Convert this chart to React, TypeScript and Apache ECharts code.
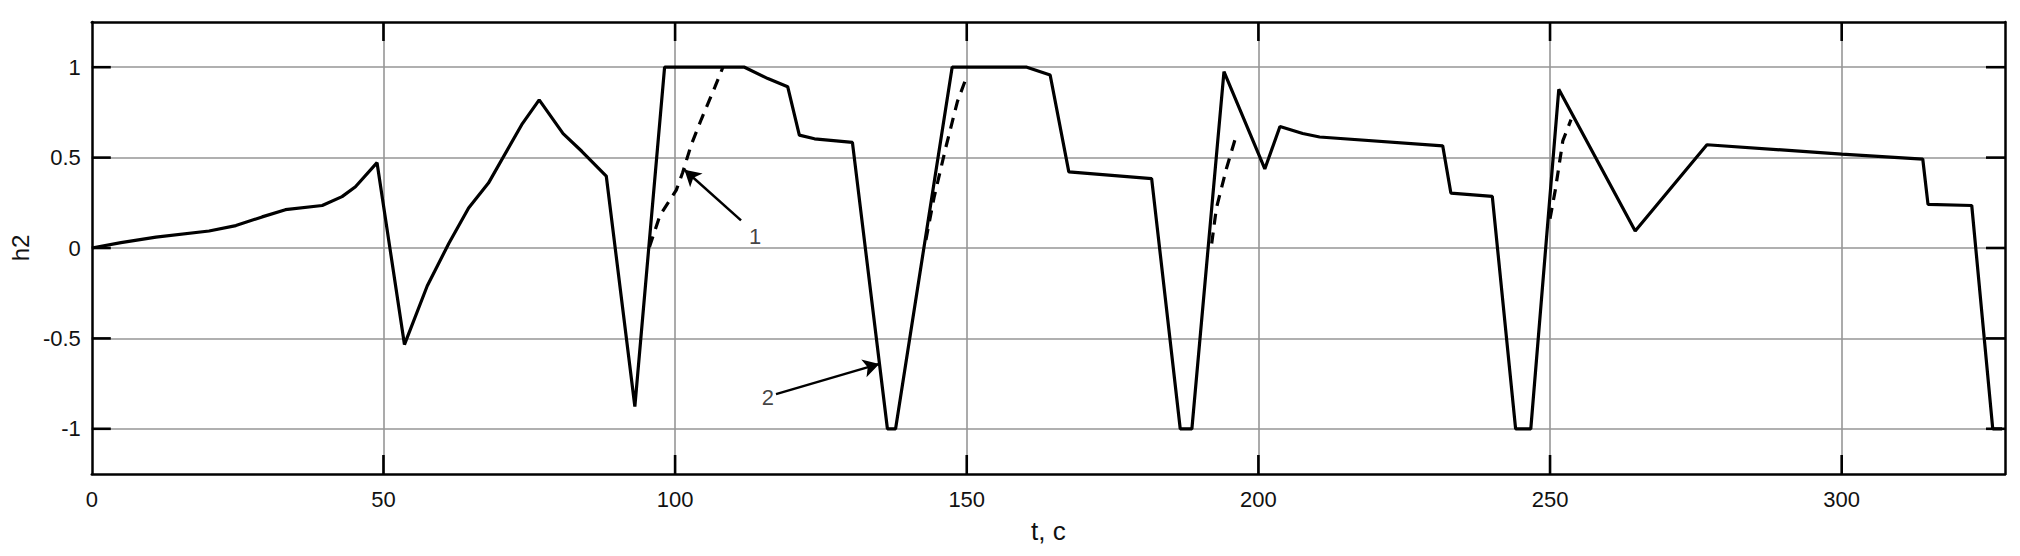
import React, { useEffect, useRef } from "react";
import * as echarts from "echarts";

// Solid curve (2): time t, c and level h2
const solidT = [0, 5, 11, 20.1, 24.7, 29.2, 33.2, 39.5, 42.9, 45.2, 48.9, 53.6, 57.5, 61.2, 64.6, 68, 73.7, 76.7, 80.8, 84, 88.2, 93.1, 98.2, 111.9, 115.9, 119.3, 121.3, 123.9, 130.4, 136.4, 137.8, 147.5, 160.3, 164.3, 167.5, 181.7, 186.6, 188.6, 194.1, 201.1, 203.7, 207.6, 210.5, 231.6, 233, 240.1, 244.1, 246.7, 251.5, 264.6, 276.9, 300, 313.9, 314.8, 322.3, 325.9, 327.5];
const solidH = [0, 0.03, 0.06, 0.094, 0.124, 0.172, 0.212, 0.235, 0.284, 0.339, 0.472, -0.534, -0.21, 0.025, 0.221, 0.359, 0.682, 0.819, 0.633, 0.535, 0.398, -0.877, 1.0, 1.0, 0.937, 0.892, 0.624, 0.604, 0.584, -1.0, -1.0, 1.0, 1.0, 0.957, 0.421, 0.384, -1.0, -1.0, 0.976, 0.437, 0.672, 0.633, 0.614, 0.565, 0.304, 0.286, -1.0, -1.0, 0.878, 0.094, 0.571, 0.519, 0.492, 0.241, 0.235, -1.0, -1.0];

// Dashed curve (1): four rising segments
const dash1T = [95.6, 97.4, 100.2, 101.3, 102.8, 104.5, 106.8, 108.2];
const dash1H = [0.006, 0.18, 0.32, 0.418, 0.574, 0.712, 0.888, 1.0];
const dash2T = [143, 144.4, 146.4, 148.4, 150.1];
const dash2H = [0.045, 0.28, 0.555, 0.81, 0.957];
const dash3T = [192, 192.8, 194.5, 196.3];
const dash3H = [0.025, 0.22, 0.437, 0.633];
const dash4T = [250, 250.9, 252.2, 253.6];
const dash4H = [0.162, 0.32, 0.594, 0.71];

// Annotation arrows and their labels
const arrowLabels = ["1", "2"];
const arrowTailT = [111.3, 117.3];
const arrowTailH = [0.153, -0.808];
const arrowHeadT = [101.6, 135.0];
const arrowHeadH = [0.433, -0.641];
const labelT = [113.7, 115.9];
const labelH = [0.065, -0.827];

// Tick positions (inward tick marks on all four sides)
const xTickValues = [50, 100, 150, 200, 250, 300];
const yTickValues = [-1, -0.5, 0, 0.5, 1];

const X_MIN = 0;
const X_MAX = 328;
const Y_MIN = -1.25;
const Y_MAX = 1.25;

const FONT = "'Liberation Sans', Arial, Helvetica, sans-serif";
const TICK_LEN = 19;

function zip(ts: number[], hs: number[]) {
  return ts.map((t, i) => [t, hs[i]]);
}

export default function App() {
  const ref = useRef<HTMLDivElement>(null);

  useEffect(() => {
    if (!ref.current) return;
    const chart = echarts.init(ref.current, undefined, { renderer: "svg" });

    const dashedData: any[] = [];
    [
      [dash1T, dash1H],
      [dash2T, dash2H],
      [dash3T, dash3H],
      [dash4T, dash4H],
    ].forEach(([ts, hs], k) => {
      if (k > 0) dashedData.push([null, null]);
      zip(ts, hs).forEach((p) => dashedData.push(p));
    });

    const frame = { show: true, onZero: false, lineStyle: { color: "#000", width: 2.5 } };
    const gridLine = {
      show: true,
      showMinLine: false,
      showMaxLine: false,
      lineStyle: { color: "#969696", width: 1.6 },
    };
    const tickStyle = { stroke: "#000", lineWidth: 2.6 };

    const xBase = { type: "value", min: X_MIN, max: X_MAX, interval: 50 };
    const yBase = { type: "value", min: Y_MIN, max: Y_MAX, splitNumber: 5 };

    const option: any = {
      animation: false,
      backgroundColor: "#fff",
      grid: { left: 89, right: 15, top: 22, bottom: 82, show: false },
      xAxis: [
        {
          ...xBase,
          position: "bottom",
          axisLine: frame,
          axisTick: { show: false },
          splitLine: gridLine,
          axisLabel: {
            show: true,
            margin: 14,
            fontSize: 22,
            fontFamily: FONT,
            color: "#111",
            showMaxLabel: false,
          },
          name: "t, c",
          nameLocation: "middle",
          nameGap: 44,
          nameTextStyle: { fontSize: 26, fontFamily: FONT, color: "#111" },
        },
        {
          ...xBase,
          position: "top",
          axisLine: frame,
          axisTick: { show: false },
          splitLine: { show: false },
          axisLabel: { show: false },
        },
      ],
      yAxis: [
        {
          ...yBase,
          position: "left",
          axisLine: frame,
          axisTick: { show: false },
          splitLine: gridLine,
          axisLabel: {
            show: true,
            margin: 11,
            fontSize: 22,
            fontFamily: FONT,
            color: "#111",
            showMinLabel: false,
            showMaxLabel: false,
            formatter: (v: number) => String(v),
          },
          name: "h2",
          nameLocation: "middle",
          nameRotate: 90,
          nameGap: 58,
          nameTextStyle: { fontSize: 24, fontFamily: FONT, color: "#111" },
        },
        {
          ...yBase,
          position: "right",
          axisLine: frame,
          axisTick: { show: false },
          splitLine: { show: false },
          axisLabel: { show: false },
        },
      ],
      series: [
        {
          type: "custom",
          silent: true,
          clip: false,
          data: xTickValues.map((v) => [v, 0]),
          renderItem: (_p: any, api: any) => {
            const v = api.value(0);
            const b = api.coord([v, Y_MIN]);
            const t = api.coord([v, Y_MAX]);
            return {
              type: "group",
              children: [
                { type: "line", shape: { x1: b[0], y1: b[1], x2: b[0], y2: b[1] - TICK_LEN }, style: tickStyle },
                { type: "line", shape: { x1: t[0], y1: t[1], x2: t[0], y2: t[1] + TICK_LEN }, style: tickStyle },
              ],
            };
          },
          z: 3,
        },
        {
          type: "custom",
          silent: true,
          clip: false,
          data: yTickValues.map((v) => [0, v]),
          renderItem: (_p: any, api: any) => {
            const v = api.value(1);
            const l = api.coord([X_MIN, v]);
            const r = api.coord([X_MAX, v]);
            return {
              type: "group",
              children: [
                { type: "line", shape: { x1: l[0], y1: l[1], x2: l[0] + TICK_LEN, y2: l[1] }, style: tickStyle },
                { type: "line", shape: { x1: r[0], y1: r[1], x2: r[0] - TICK_LEN, y2: r[1] }, style: tickStyle },
              ],
            };
          },
          z: 3,
        },
        {
          type: "line",
          name: "2",
          data: zip(solidT, solidH),
          showSymbol: false,
          symbol: "none",
          lineStyle: { color: "#000", width: 3.2 },
          z: 5,
          markLine: {
            silent: true,
            symbol: ["none", "arrow"],
            symbolSize: [14, 16],
            lineStyle: { color: "#000", width: 2.5, type: "solid" },
            label: { show: false },
            data: arrowLabels.map((_, i) => [
              { coord: [arrowTailT[i], arrowTailH[i]] },
              { coord: [arrowHeadT[i], arrowHeadH[i]] },
            ]),
          },
        },
        {
          type: "line",
          name: "1",
          data: dashedData,
          connectNulls: false,
          showSymbol: false,
          symbol: "none",
          lineStyle: { color: "#000", width: 3.2, type: [11, 8] },
          z: 4,
        },
        {
          type: "scatter",
          data: arrowLabels.map((s, i) => [labelT[i], labelH[i], s]),
          symbolSize: 1,
          itemStyle: { color: "rgba(0,0,0,0)" },
          label: {
            show: true,
            position: "inside",
            fontSize: 22,
            fontFamily: FONT,
            color: "#111",
            formatter: (p: any) => p.value[2],
          },
          z: 6,
        },
      ],
    };

    chart.setOption(option);
    return () => chart.dispose();
  }, []);

  return (
    <div
      ref={ref}
      style={{ position: "fixed", left: 0, top: 0, width: 2020, height: 556, background: "#fff" }}
    />
  );
}
